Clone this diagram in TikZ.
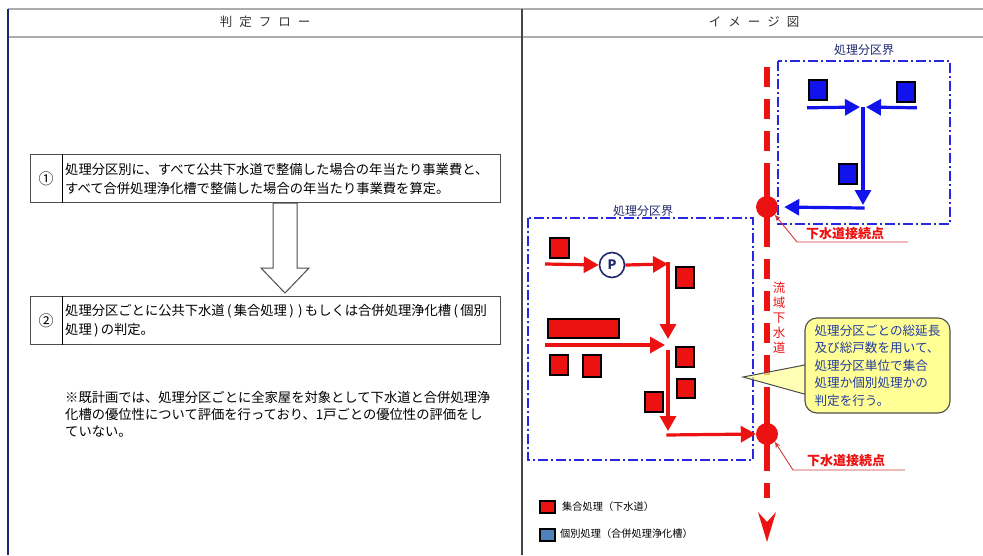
\documentclass[tikz,border=0pt]{standalone}
\usepackage{fontspec}
\setmainfont{Noto Sans CJK JP}
\usetikzlibrary{arrows.meta,calc}
\definecolor{tred}{RGB}{236,18,18}
\definecolor{tblue}{RGB}{18,18,236}
\definecolor{ddblue}{RGB}{40,40,225}
\definecolor{navy}{RGB}{30,40,110}
\definecolor{cyel}{RGB}{255,255,150}
\definecolor{ctext}{RGB}{35,60,160}
\definecolor{legblue}{RGB}{79,129,189}
\definecolor{leadred}{RGB}{205,60,60}
\newcommand{\hsp}{\hspace{7pt}}
\newcommand{\lpar}{\makebox[9pt]{(}}
\newcommand{\rpar}{\makebox[9pt]{)}}
\tikzset{
  flowbox/.style={draw=gray!60!black, line width=1pt, minimum width=470pt, minimum height=48pt, anchor=north west, inner sep=0pt},
  bsq/.style={draw=black, line width=1.8pt, fill=tblue, minimum width=18pt, minimum height=20pt, inner sep=0pt, anchor=north west},
  rsq/.style={draw=black, line width=1.8pt, fill=tred, minimum width=18pt, minimum height=20pt, inner sep=0pt, anchor=north west},
  barrow/.style={draw=tblue, line width=3.2pt, -{Triangle[length=15pt,width=16pt]}},
  rarrow/.style={draw=tred, line width=3.2pt, -{Triangle[length=15pt,width=16pt]}},
  ddbox/.style={draw=ddblue, line width=1.4pt, dash pattern=on 10pt off 3pt on 2pt off 3pt},
  arealbl/.style={text=navy, font=\fontsize{12}{14}\selectfont, inner sep=0pt},
  connlbl/.style={text=tred, font=\fontsize{13}{15}\selectfont\bfseries, inner sep=0pt},
  leader/.style={draw=leadred, line width=0.9pt, {Stealth[length=6pt,width=5pt]}-},
  maintxt/.style={font=\fontsize{13.3}{19}\selectfont, align=left, inner sep=0pt, anchor=west},
  hdr/.style={text=black!80, font=\fontsize{12.5}{14}\selectfont, inner sep=0pt},
  redcirc/.style={circle, fill=tred, minimum size=22pt, inner sep=0pt},
  legsq/.style={draw=black, line width=2pt, minimum width=15pt, minimum height=12pt, inner sep=0pt, anchor=north west},
  legtxt/.style={font=\fontsize{10.2}{12}\selectfont, inner sep=0pt, anchor=west}
}
\begin{document}
\begin{tikzpicture}[x=1pt,y=-1pt]
\useasboundingbox (0,0) rectangle (983,555);
% table frame
\draw[gray!65, line width=1.5pt] (8,9) -- (983,9);
\draw[gray!65, line width=1.5pt] (8,37) -- (983,37);
\draw[gray!55!black, line width=1.3pt] (522,9) -- (522,555);
\draw[navy, line width=1.6pt] (8,9) -- (8,555);
\node[hdr] (h1) at (265,22) {判\hsp 定\hsp フ\hsp ロ\hsp ー};
\node[hdr] (h2) at (754,22) {イ\hsp メ\hsp ー\hsp ジ\hsp 図};

% flow boxes
\node[flowbox] (b1) at (30,154) {};
\draw[black, line width=1pt] ($(b1.north west)+(32,0)$) -- ($(b1.south west)+(32,0)$);
\node[font=\fontsize{15}{15}\selectfont] (n1) at ($(b1.west)+(16,0)$) {①};
\node[maintxt] (t1) at ($(b1.west)+(35,0)$) {処理分区別に、すべて公共下水道で整備した場合の年当たり事業費と、\\すべて合併処理浄化槽で整備した場合の年当たり事業費を算定。};

\node[flowbox] (b2) at (30,296) {};
\draw[black, line width=1pt] ($(b2.north west)+(32,0)$) -- ($(b2.south west)+(32,0)$);
\node[font=\fontsize{15}{15}\selectfont] (n2) at ($(b2.west)+(16,0)$) {②};
\node[maintxt] (t2) at ($(b2.west)+(35,0)$) {処理分区ごとに公共下水道\lpar 集合処理\rpar\rpar もしくは合併処理浄化槽\lpar 個別\\処理\rpar の判定。};

% hollow arrow
\draw[draw=gray!60!black, fill=white, line width=1pt] (273,203) -- (297,203) -- (297,268) -- (309,268) -- (285,293) -- (261,268) -- (273,268) -- cycle;

% note
\node[font=\fontsize{13.3}{17}\selectfont, align=left, inner sep=0pt, anchor=north west] (note) at (65,391) {※既計画では、処理分区ごとに全家屋を対象として下水道と合併処理浄\\化槽の優位性について評価を行っており、1戸ごとの優位性の評価をし\\ていない。};

% ===== image =====
% areas
\draw[ddbox] (778,61) rectangle (950,224);
\draw[ddbox] (528,218) rectangle (753,460);
\node[arealbl] (al1) at (864,50) {処理分区界};
\node[arealbl] (al2) at (643,211) {処理分区界};

% main trunk line
\draw[tred, line width=5.5pt, dash pattern=on 20pt off 12pt] (767,67) -- (767,498);
\draw[tred, line width=5.5pt] (767,180) -- (767,237);
\draw[tred, line width=5.5pt] (767,403) -- (767,462);
\fill[tred] (758,512) -- (767,522) -- (776,512) -- (767,542) -- cycle;
\node[redcirc] (rc1) at (767,207) {};
\node[redcirc] (rc2) at (767,434) {};
\node[text=tred, font=\fontsize{12.5}{15}\selectfont, align=center, inner sep=0pt] (ryk) at (779,318) {流\\域\\下\\水\\道};

% blue area
\node[bsq] (bs1) at (808,79) {};
\node[bsq] (bs2) at (896,81) {};
\node[bsq] (bs3) at (838,163) {};
\coordinate (bj1) at (863,107);
\coordinate (bj2) at (863,208);
\draw[barrow, shorten >=3pt] ($(bs1.south west)+(-1,7)$) -- (bj1);
\draw[barrow, shorten >=3pt] ($(bs2.south east)+(1,5)$) -- (bj1);
\draw[barrow] (bj1) -- ($(bj2)+(0,-3)$);
\draw[barrow, shorten >=6pt] ($(bj2)+(1.6,0)$) -- (rc1.east);

% red area
\node[rsq, minimum width=19pt] (rsA) at (549,237) {};
\node[circle, draw=navy, line width=1.6pt, fill=white, minimum size=25pt, inner sep=0pt, text=navy, font=\fontsize{13}{13}\selectfont\bfseries] (P) at (612,265) {P};
\node[rsq, minimum height=21pt] (rsB) at (675,266) {};
\node[rsq, minimum width=71pt, minimum height=19pt] (rbig) at (547,318) {};
\node[rsq] (rsC) at (549,354) {};
\node[rsq, minimum height=22pt] (rsD) at (582,354) {};
\node[rsq] (rsE) at (675,346) {};
\node[rsq, minimum height=19pt] (rsF) at (676,378) {};
\node[rsq] (rsG) at (644,391) {};
\coordinate (rs1) at (545,264);
\coordinate (rs2) at (545,345);
\coordinate (rj1) at (668,264);
\coordinate (rj2) at (668,345);
\coordinate (rj3) at (668,435);
\draw[rarrow] (rs1) -- (P.west);
\draw[rarrow] (P.east) -- (rj1);
\draw[rarrow, shorten >=6pt] ($(rj1)+(0,-1.6)$) -- (rj2);
\draw[rarrow, shorten >=3pt] (rs2) -- (rj2);
\draw[rarrow, shorten >=4pt] ($(rj2)+(0,5)$) -- (rj3);
\draw[rarrow] ($(rj3)+(-1.6,0)$) -- (rc2.west);

% connection point labels
\coordinate (ld1) at (797,242);
\coordinate (ld1e) at (908,242);
\draw[leader] (rc1.south east) -- (ld1) -- (ld1e);
\node[connlbl] (cl1) at (845,234) {下水道接続点};
\coordinate (ld2) at (793,470);
\coordinate (ld2e) at (905,470);
\draw[leader] (rc2.south east) -- (ld2) -- (ld2e);
\node[connlbl] (cl2) at (846,461) {下水道接続点};

% callout
\coordinate (ctip) at (743,377);
\fill[cyel, fill opacity=0.7] (ctip) -- (815,363) -- (815,397) -- cycle;
\draw[gray!60!black, line width=1pt] (815,363) -- (ctip) -- (815,397);
\node[draw=gray!60!black, line width=1.1pt, fill=cyel, rounded corners=12pt, minimum width=145pt, minimum height=95pt, inner sep=0pt, text=ctext, font=\fontsize{12.6}{17.5}\selectfont, align=left] (cb) at (877.5,365.5) {処理分区ごとの総延長\\及び総戸数を用いて、\\処理分区単位で集合\\処理か個別処理かの\\判定を行う。};

% legend
\node[legsq, fill=tred] (lg1) at (539,500) {};
\node[legtxt] (lt1) at (562,507) {集合処理（下水道）};
\node[legsq, fill=legblue] (lg2) at (539,528) {};
\node[legtxt] (lt2) at (560,534) {個別処理（合併処理浄化槽）};
\end{tikzpicture}
\end{document}
